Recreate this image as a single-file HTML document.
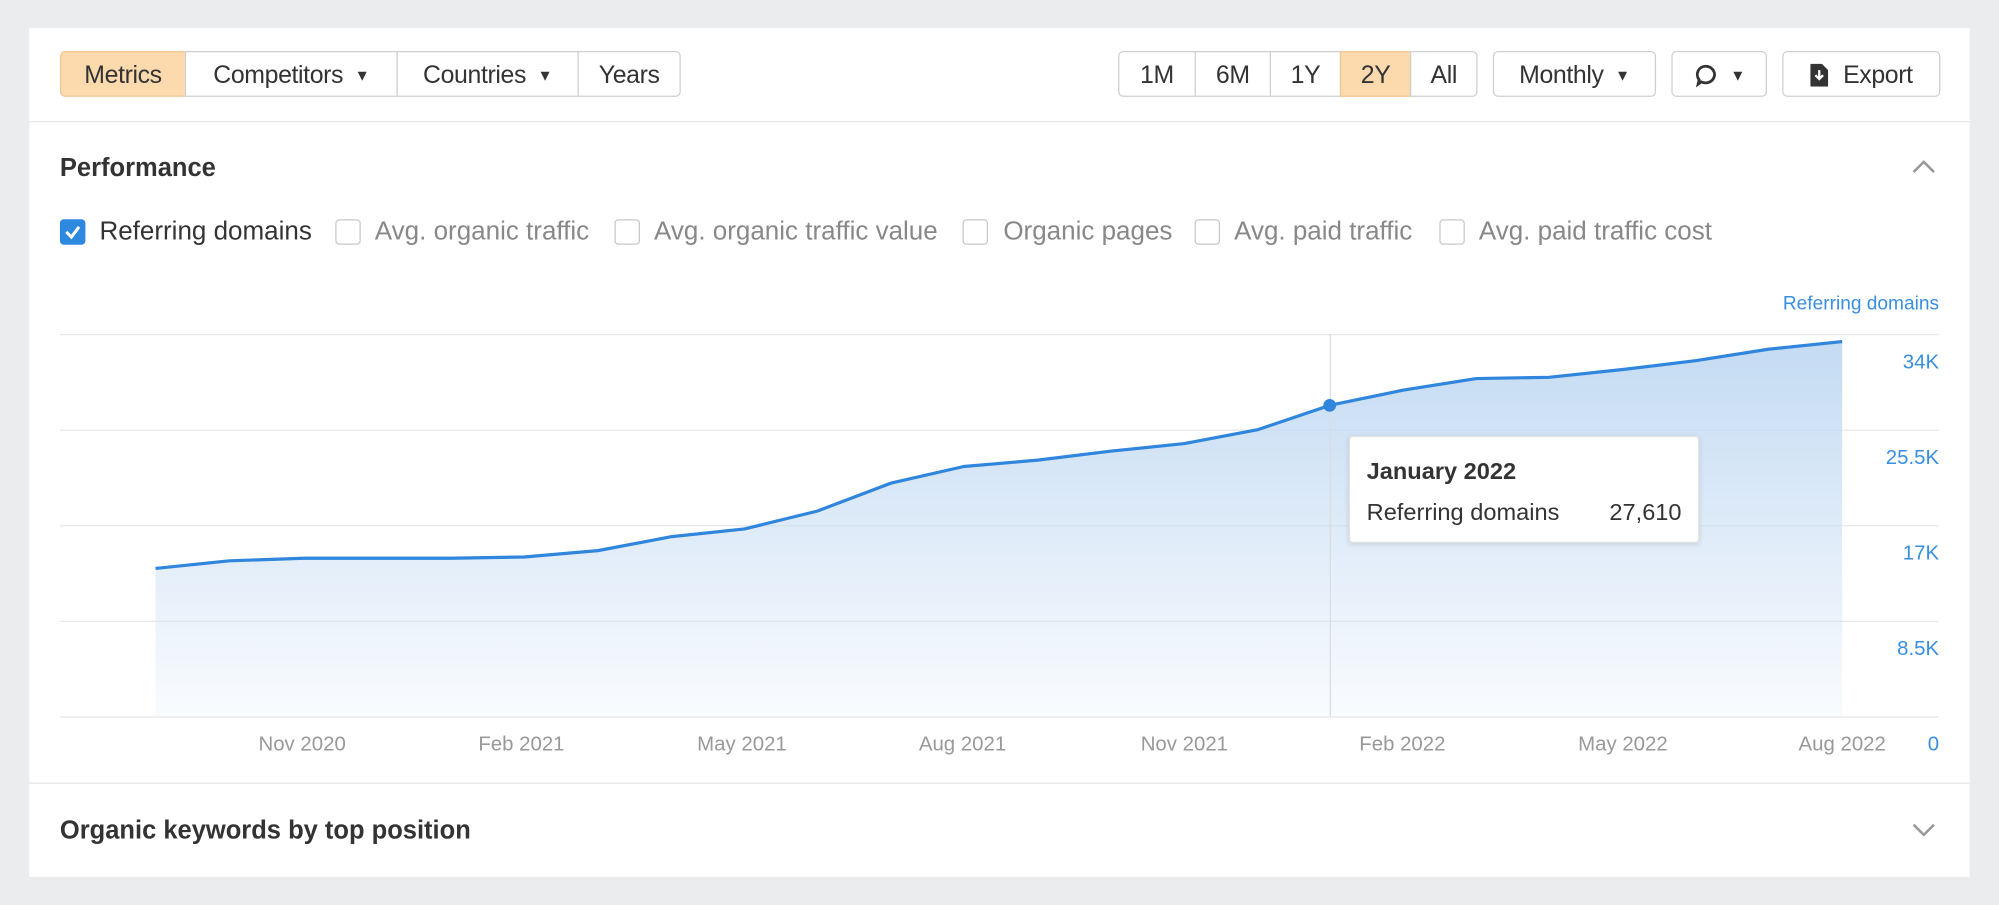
<!DOCTYPE html>
<html><head><meta charset="utf-8"><style>
html,body{margin:0;padding:0;background:#ebecee;width:1999px;height:905px;overflow:hidden}
#w{position:absolute;left:0;top:0;width:1568px;height:710px;transform:scale(1.27487,1.2746);transform-origin:0 0;font-family:"Liberation Sans",sans-serif;color:#333}
.card{position:absolute;left:23px;top:22px;width:1522px;height:666px;background:#fff}
.a{position:absolute}
.btn{position:absolute;top:40px;height:36px;border:1px solid #cfcfcf;background:#fff;font-size:19.5px;line-height:36px;text-align:center;box-sizing:border-box;color:#333;white-space:nowrap;letter-spacing:-0.3px}
.or{background:#fdd9ae;border-color:#f0c898}
.tri{font-size:12px;margin-left:9px;vertical-align:2px}
.cb{position:absolute;top:172px;width:18px;height:18px;border:1px solid #c8c8c8;border-radius:3px;background:#fff}
.lb{position:absolute;top:171px;font-size:20.4px;color:#888;white-space:nowrap}
.xl{position:absolute;top:576px;font-size:16px;color:#999;transform:translateX(-50%);white-space:nowrap}
.yl{position:absolute;right:47px;font-size:16px;color:#3a8ee0}
</style></head><body><div id="w">
<div class="card"></div>
<div class="a" style="left:23px;top:95px;width:1522px;height:1px;background:#e6e6e6"></div>
<div class="a" style="left:23px;top:614px;width:1522px;height:1px;background:#e6e6e6"></div>
<div class="btn or" style="left:47px;width:99px;border-radius:4px 0 0 4px">Metrics</div>
<div class="btn" style="left:145px;width:167px">Competitors<span class="tri">▼</span></div>
<div class="btn" style="left:311px;width:143px">Countries<span class="tri">▼</span></div>
<div class="btn" style="left:453px;width:81px;border-radius:0 4px 4px 0">Years</div>
<div class="btn" style="left:877px;width:61px;border-radius:4px 0 0 4px">1M</div>
<div class="btn" style="left:937px;width:60px">6M</div>
<div class="btn" style="left:996px;width:56px">1Y</div>
<div class="btn or" style="left:1051px;width:56px">2Y</div>
<div class="btn" style="left:1106px;width:53px;border-radius:0 4px 4px 0">All</div>
<div class="btn" style="left:1171px;width:128px;border-radius:4px">Monthly<span class="tri">▼</span></div>
<div class="btn" style="left:1311px;width:75px;border-radius:4px"><svg width="20" height="20" viewBox="0 0 20 20" style="vertical-align:-4px"><path d="M10 3a7 6.5 0 1 1-3.5 12.2L4 17l.8-3.4A6.5 6.5 0 0 1 10 3z" fill="none" stroke="#333" stroke-width="2.2"/></svg><span class="tri">▼</span></div>
<div class="btn" style="left:1398px;width:124px;border-radius:4px"><svg width="14" height="18" viewBox="0 0 14 18" style="vertical-align:-3px;margin-right:12px"><path d="M0 1a1 1 0 0 1 1-1h8l5 5v12a1 1 0 0 1-1 1H1a1 1 0 0 1-1-1z" fill="#333"/><path d="M7 5v7M4 9l3 3 3-3" stroke="#fff" stroke-width="1.8" fill="none"/></svg>Export</div>
<div class="a" style="left:47px;top:121px;font-size:20px;font-weight:bold">Performance</div>
<svg class="a" style="left:1499px;top:124px" width="20" height="14"><path d="M2 11l8-8 8 8" stroke="#999" stroke-width="2" fill="none"/></svg>
<div class="cb" style="left:47px;background:#2d88df;border-color:#2d88df"><svg width="18" height="18"><path d="M4 9l4 4 6-8" stroke="#fff" stroke-width="2.4" fill="none"/></svg></div>
<div class="lb" style="left:78px;color:#333">Referring domains</div>
<div class="cb" style="left:263px"></div><div class="lb" style="left:294px">Avg. organic traffic</div>
<div class="cb" style="left:482px"></div><div class="lb" style="left:513px">Avg. organic traffic value</div>
<div class="cb" style="left:755px"></div><div class="lb" style="left:787px">Organic pages</div>
<div class="cb" style="left:937px"></div><div class="lb" style="left:968px">Avg. paid traffic</div>
<div class="cb" style="left:1129px"></div><div class="lb" style="left:1160px">Avg. paid traffic cost</div>
<div class="a" style="right:47px;top:230px;font-size:15px;color:#3a8ee0">Referring domains</div>
<svg class="a" style="left:0;top:0" width="1568" height="710">
<defs><linearGradient id="g" x1="0" y1="0" x2="0" y2="1"><stop offset="0" stop-color="#c4dbf3"/><stop offset="1" stop-color="#c4dbf3" stop-opacity="0.1"/></linearGradient></defs>
<g stroke="#e8e8e8" stroke-width="1"><line x1="47" y1="262.5" x2="1521" y2="262.5"/><line x1="47" y1="337.5" x2="1521" y2="337.5"/><line x1="47" y1="412.5" x2="1521" y2="412.5"/><line x1="47" y1="487.5" x2="1521" y2="487.5"/><line x1="47" y1="562.5" x2="1521" y2="562.5"/></g>
<path d="M122 446 L180 440 238 438 296 438 353 438 411 437 469 432 527 421 584 415 641 401 699 379 756 366 814 361 871 354 929 348 987 337 1043 318 1101 306 1158 297 1215 296 1272 290 1330 283 1387 274 1445 268 L1445 562 L122 562Z" fill="url(#g)"/>
<line x1="1043.5" y1="262" x2="1043.5" y2="562" stroke="#d8dde3"/>
<path d="M122 446 L180 440 238 438 296 438 353 438 411 437 469 432 527 421 584 415 641 401 699 379 756 366 814 361 871 354 929 348 987 337 1043 318 1101 306 1158 297 1215 296 1272 290 1330 283 1387 274 1445 268" fill="none" stroke="#2f86dc" stroke-width="2.5" stroke-linejoin="round"/>
<circle cx="1043" cy="318" r="5" fill="#2f86dc"/>
</svg>
<div class="yl" style="top:276px">34K</div><div class="yl" style="top:351px">25.5K</div><div class="yl" style="top:426px">17K</div><div class="yl" style="top:501px">8.5K</div><div class="yl" style="top:576px">0</div>
<div class="xl" style="left:237px">Nov 2020</div><div class="xl" style="left:409px">Feb 2021</div><div class="xl" style="left:582px">May 2021</div><div class="xl" style="left:755px">Aug 2021</div><div class="xl" style="left:929px">Nov 2021</div><div class="xl" style="left:1100px">Feb 2022</div><div class="xl" style="left:1273px">May 2022</div><div class="xl" style="left:1445px">Aug 2022</div>
<div class="a" style="left:1058px;top:342px;width:275px;height:84px;background:#fff;border:1px solid #e2e2e2;border-radius:3px;box-shadow:0 1px 4px rgba(0,0,0,.12);box-sizing:border-box">
<div class="a" style="left:13px;top:16px;font-size:18.5px;font-weight:bold;white-space:nowrap">January 2022</div>
<div class="a" style="left:13px;top:48px;font-size:18.5px;white-space:nowrap">Referring domains</div>
<div class="a" style="right:13px;top:48px;font-size:18.5px">27,610</div></div>
<div class="a" style="left:47px;top:641px;font-size:20px;font-weight:bold">Organic keywords by top position</div>
<svg class="a" style="left:1499px;top:644px" width="20" height="14"><path d="M2 3l8 8 8-8" stroke="#999" stroke-width="2" fill="none"/></svg>
</div></body></html>
